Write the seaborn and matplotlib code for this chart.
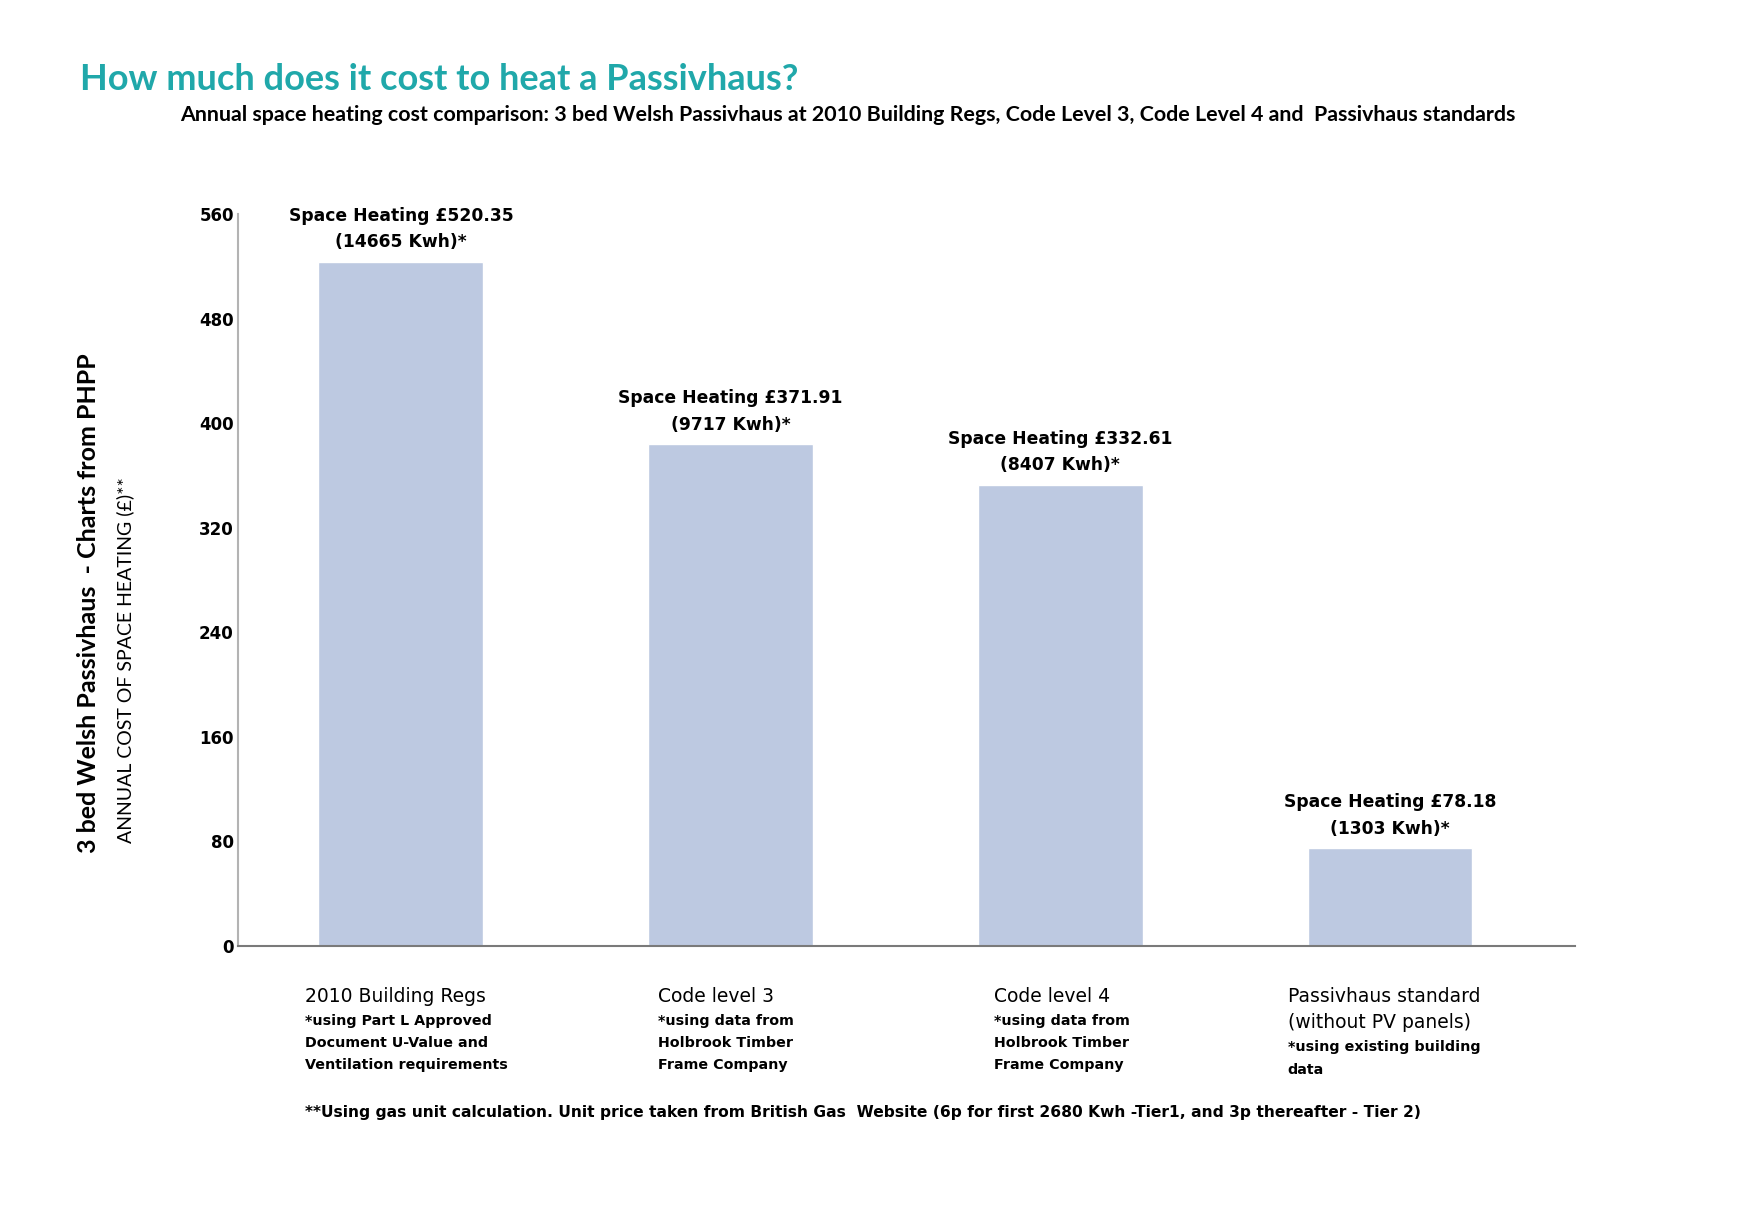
import matplotlib
matplotlib.use("Agg")
import matplotlib.pyplot as plt
import seaborn as sns
import pandas as pd

# ---- data ----
categories = ["2010 Building Regs", "Code level 3", "Code level 4", "Passivhaus standard"]
bar_heights = [523.5, 384, 353, 75]        # bar heights as drawn in the chart (£)
label_costs = ["520.35", "371.91", "332.61", "78.18"]
label_kwh = ["14665", "9717", "8407", "1303"]
cat_headings = [["2010 Building Regs"], ["Code level 3"], ["Code level 4"],
                ["Passivhaus standard", "(without PV panels)"]]
cat_notes = [["*using Part L Approved", "Document U-Value and", "Ventilation requirements"],
             ["*using data from", "Holbrook Timber", "Frame Company"],
             ["*using data from", "Holbrook Timber", "Frame Company"],
             ["*using existing building", "data"]]
y_ticks = [0, 80, 160, 240, 320, 400, 480, 560]

sns.set_theme(style="white")
plt.rcParams['font.family'] = ['Lato', 'DejaVu Sans']
plt.rcParams['text.color'] = 'black'
plt.rcParams['ytick.color'] = 'black'
plt.rcParams['xtick.color'] = 'black'
BODY = ['DejaVu Sans']

W, H = 1754, 1205
fig = plt.figure(figsize=(W / 100, H / 100), dpi=100)
ax_bottom_px, ax_top_px = 946, 214
ax = fig.add_axes([238 / W, 1 - ax_bottom_px / H, (1575 - 238) / W,
                   (ax_bottom_px - ax_top_px) / H])
ax_h_px = ax_bottom_px - ax_top_px

df = pd.DataFrame({"cat": categories, "val": bar_heights})
sns.barplot(data=df, x="cat", y="val", color="#BDC9E1", saturation=1,
            width=0.5, ax=ax)

ax.set_xlim(-0.494, 3.561)
ax.set_ylim(0, 560)
ax.set_yticks(y_ticks)
ax.set_yticklabels([str(t) for t in y_ticks], fontweight="bold", fontsize=12,
                   family=BODY, color="black")
ax.tick_params(axis="y", length=0, pad=3)
ax.set_xticks([])
ax.set_xlabel("")
ax.set_ylabel("")
for s in ["top", "right"]:
    ax.spines[s].set_visible(False)
ax.spines["left"].set_color("#b3b3b3")
ax.spines["left"].set_linewidth(1.5)
ax.spines["bottom"].set_color("#7a7a7a")
ax.spines["bottom"].set_linewidth(1.5)

# bar labels
for i, (h, c, k) in enumerate(zip(bar_heights, label_costs, label_kwh)):
    ax.annotate(f"Space Heating £{c}\n({k} Kwh)*", xy=(i, h), xytext=(0, 7.5),
                textcoords="offset points", ha="center", va="bottom",
                fontsize=12.3, fontweight="bold", linespacing=1.6, family=BODY,
                color="black")

# category labels below the axis
label_dx = [-0.29, -0.22, -0.20, -0.31]
xtr = ax.get_xaxis_transform()
def yfrac(px):
    return -(px - ax_bottom_px) / ax_h_px
for i, (hd, nt) in enumerate(zip(cat_headings, cat_notes)):
    y = 996
    for line in hd:
        ax.text(i + label_dx[i], yfrac(y), line, transform=xtr, ha="left",
                va="center", fontsize=13.5, family=BODY, color="black")
        y += 26.8
    y += 24.6 - 26.8
    for line in nt:
        ax.text(i + label_dx[i], yfrac(y), line, transform=xtr, ha="left",
                va="center", fontsize=10.3, fontweight="bold", family=BODY,
                color="black")
        y += 22.4

# titles
fig.text(80 / W, 1 - 90 / H, "How much does it cost to heat a Passivhaus?",
         color="#20A8AA", fontsize=26, fontweight="bold", ha="left", va="baseline")
fig.text(180 / W, 1 - 115 / H,
         "Annual space heating cost comparison: 3 bed Welsh Passivhaus at 2010 Building Regs, "
         "Code Level 3, Code Level 4 and  Passivhaus standards",
         fontsize=15.4, fontweight="bold", ha="left", va="center")

# y labels
fig.text(89 / W, 1 - 603 / H, "3 bed Welsh Passivhaus  - Charts from PHPP",
         rotation=90, fontsize=18, fontweight="bold", ha="center", va="center")
fig.text(125 / W, 1 - 660 / H, "ANNUAL COST OF SPACE HEATING (£)**",
         rotation=90, fontsize=14, fontweight="normal", ha="center", va="center")

# footnote
fig.text(305 / W, 1 - 1112 / H,
         "**Using gas unit calculation. Unit price taken from British Gas  Website "
         "(6p for first 2680 Kwh -Tier1, and 3p thereafter - Tier 2)",
         fontsize=11.2, fontweight="bold", ha="left", va="center", family=BODY)

fig.savefig("out.png", dpi=100, facecolor="white")
